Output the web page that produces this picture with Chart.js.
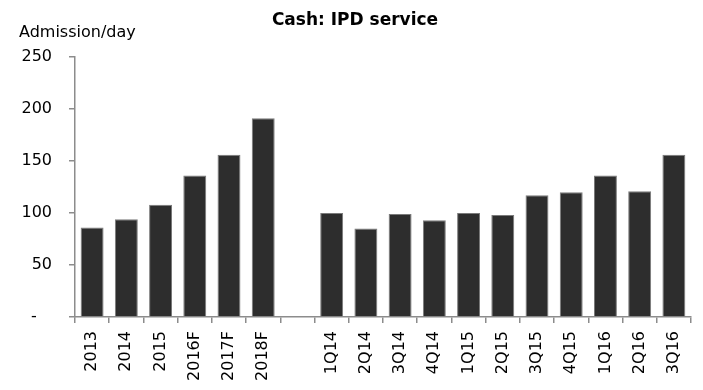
<!DOCTYPE html>
<html>
<head>
<meta charset="utf-8">
<script src="https://cdn.jsdelivr.net/npm/chart.js@4"></script>
<style>
  html, body { margin: 0; padding: 0; background: #fff; }
  #wrap { width: 703px; height: 390px; }
</style>
</head>
<body>
<div id="wrap"><canvas id="ipdChart" width="703" height="390"></canvas></div>
<script>
// Admissions per day, yearly (with forecasts) then quarterly
const categories = ['2013', '2014', '2015', '2016F', '2017F', '2018F', '',
    '1Q14', '2Q14', '3Q14', '4Q14', '1Q15', '2Q15', '3Q15', '4Q15', '1Q16', '2Q16', '3Q16'];
const admissions = [86, 94, 108, 136, 156, 191, null,
    100, 85, 99, 93, 100, 98, 117, 120, 136, 121, 156];
const yTicks = [0, 50, 100, 150, 200, 250];
const yTickLabels = ['-   ', '50', '100', '150', '200', '250'];

const chartTitle = 'Cash: IPD service';
const unitLabel = 'Admission/day';

const axisGrey = '#8c8c8c';
const font = '"DejaVu Sans", Verdana, sans-serif';

// title and unit text sit above the plot
const headerText = {
    id: 'headerText',
    afterDraw(chart) {
        const ctx = chart.ctx;
        ctx.save();
        ctx.fillStyle = '#000';
        ctx.textBaseline = 'alphabetic';
        ctx.font = 'bold 17px ' + font;
        ctx.textAlign = 'center';
        ctx.fillText(chartTitle, 355, 25);
        ctx.font = '16px ' + font;
        ctx.textAlign = 'left';
        ctx.fillText(unitLabel, 19, 37);
        ctx.restore();
    }
};

const ctx = document.getElementById('ipdChart').getContext('2d');
new Chart(ctx, {
    type: 'bar',
    data: {
        labels: categories,
        datasets: [{
            data: admissions,
            backgroundColor: '#2d2d2d',
            borderColor: '#7a7a7a',
            borderWidth: 1,
            barPercentage: 0.67,
            categoryPercentage: 1
        }]
    },
    options: {
        responsive: false,
        animation: false,
        layout: {
            padding: { top: 57, right: 12, bottom: 0, left: 0 }
        },
        plugins: {
            legend: { display: false },
            title: { display: false },
            tooltip: { enabled: false }
        },
        scales: {
            x: {
                offset: true,
                afterFit: (scale) => { scale.height = 73; },
                border: { color: axisGrey, width: 1.5 },
                grid: {
                    offset: true,
                    drawOnChartArea: false,
                    drawTicks: true,
                    tickLength: 6,
                    color: axisGrey,
                    lineWidth: 1.5
                },
                ticks: {
                    minRotation: 90,
                    maxRotation: 90,
                    autoSkip: false,
                    padding: 8,
                    color: '#000',
                    font: { family: font, size: 16 }
                }
            },
            y: {
                min: 0,
                max: 250,
                afterFit: (scale) => { scale.width = 75; },
                afterBuildTicks: (scale) => {
                    scale.ticks = yTicks.map(v => ({ value: v }));
                },
                border: { color: axisGrey, width: 1.5 },
                grid: {
                    drawOnChartArea: false,
                    drawTicks: true,
                    tickLength: 6,
                    color: axisGrey,
                    lineWidth: 1.5
                },
                ticks: {
                    padding: 17,
                    color: '#000',
                    font: { family: font, size: 16 },
                    callback: (value, index) => yTickLabels[index]
                }
            }
        }
    },
    plugins: [headerText]
});
</script>
</body>
</html>
